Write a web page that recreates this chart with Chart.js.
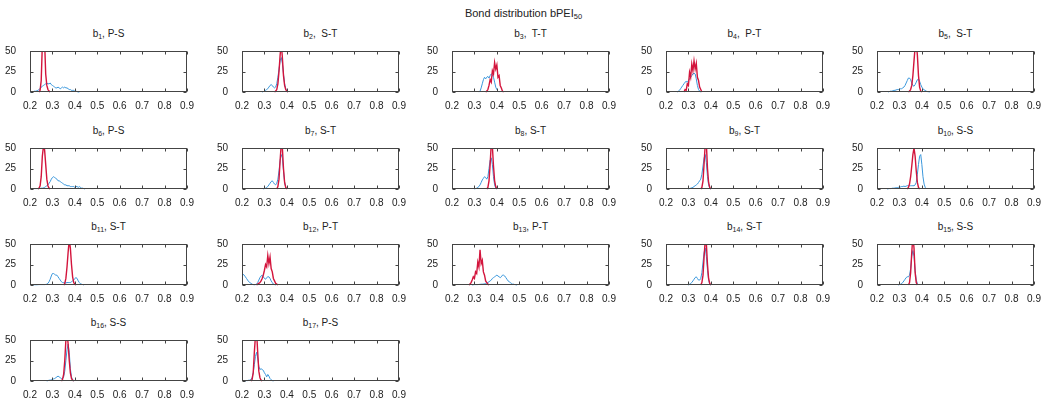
<!DOCTYPE html>
<html><head><meta charset="utf-8">
<script src="https://cdn.jsdelivr.net/npm/chart.js@4/dist/chart.umd.min.js"></script>
<style>
body{margin:0;background:#fff;width:1047px;height:400px;position:relative;overflow:hidden;font-family:'Liberation Sans',Arial,Helvetica,sans-serif;color:#222}
.t{position:absolute;text-align:center;font-size:10px;line-height:12px;white-space:pre;color:#222}
.t sub{font-size:7px;vertical-align:-2px;line-height:0}
#main{position:absolute;left:0;top:7px;width:1047px;text-align:center;font-size:11px;line-height:13px;color:#222}
#main sub{font-size:7.5px;vertical-align:-2px;line-height:0}
canvas{position:absolute;display:block}
</style>
</head><body>
<div id="main">Bond distribution bPEI<sub>50</sub></div>
<script>
// ---- data ----
const STEP = 0.005;
const xTickValues = [0.2, 0.3, 0.4, 0.5, 0.6, 0.7, 0.8, 0.9];
const xTickLabels = ['0.2', '0.3', '0.4', '0.5', '0.6', '0.7', '0.8', '0.9'];
const yTickValues = [0, 25, 50];
const yTickLabels = ['0', '25', '50'];
const bondIndex = [1, 2, 3, 4, 5, 6, 7, 8, 9, 10, 11, 12, 13, 14, 15, 16, 17];
const bondType = ['P-S', ' S-T', ' T-T', ' P-T', ' S-T', 'P-S', 'S-T', 'S-T', 'S-T', 'S-S', 'S-T', 'P-T', 'P-T', 'S-T', 'S-S', 'S-S', 'P-S'];

const redStart  = [0.24, 0.345, 0.35, 0.28, 0.34, 0.235, 0.355, 0.355, 0.355, 0.335, 0.35, 0.265, 0.275, 0.355, 0.34, 0.34, 0.24];
const blueStart = [0.20, 0.29, 0.32, 0.25, 0.25, 0.20, 0.295, 0.30, 0.30, 0.245, 0.21, 0.20, 0.29, 0.30, 0.295, 0.275, 0.215];

const b1Red  = [0,2,14,58,80,62,22,8,3,1,0];
const b2Red  = [0,1,3,10,25,45,60,42,20,8,3,1,0];
const b3Red  = [0,1,3,8,15,12,26,22,36,28,33,18,20,8,5,1,0];
const b4Red  = [0,3,2,10,8,24,18,34,26,38,28,35,18,14,6,3,0];
const b5Red  = [0,1,3,8,20,38,55,60,45,20,6,1,0];
const b6Red  = [0,1,4,15,40,52,48,30,12,4,1,0];
const b7Red  = [0,3,12,35,55,50,25,8,2,0];
const b8Red  = [0,2,10,30,55,52,28,10,3,0];
const b9Red  = [0,2,10,32,55,55,25,8,2,0];
const b10Red = [0,2,6,15,28,42,50,40,22,8,2,0];
const b11Red = [0,2,8,22,40,55,45,25,10,3,1,0];
const b12Red = [0,1,2,3,5,8,12,18,25,22,36,26,34,20,16,8,5,2,1,0];
const b13Red = [0,1,3,6,10,8,16,14,28,22,43,26,30,16,12,5,3,1,0];
const b14Red = [0,3,12,35,55,50,25,8,2,0];
const b15Red = [0,3,15,40,60,45,15,3,0];
const b16Red = [0,2,8,25,50,60,45,25,10,3,1,0];
const b17Red = [0,2,10,35,55,60,35,12,4,1,0];

const b1Blue  = [0,0,0,0.5,1,1,1.5,2,3,4,6,7,8,9,10,11,10,10,11,9,8,7,6,5,5,6,5,4,5,6,5,6,5,5,4,3,3,2,2,2,1,1,0.5,0,0];
const b2Blue  = [0,0.5,1,2,3,4,6,8,9,8,6,5,6,10,18,28,38,42,35,22,10,4,1,0];
const b3Blue  = [0,1,5,10,15,18,16,18,19,17,20,22,21,18,12,6,3,1,0];
const b4Blue  = [0,1,2,4,6,8,10,12,13,12,14,16,18,20,22,23,22,16,8,3,1,0];
const b5Blue  = [0,0.5,1,1,1.5,2,2,2.5,3,3,3.5,4,4,5,6,8,11,14,17,17,15,11,8,7,9,12,15,16,13,9,6,4,2.5,2,1,0.5,0.3,0];
const b6Blue  = [0.5,0.5,0.5,0.5,0.5,0.5,0.5,0.5,0.5,0.7,1,1,1.5,2,3,4,5,7,9,12,14,15,14,13,12,10,10,9,8,7,6,5,5,4,4,4,3,3,3,3,2,3,3,2,3,2,1,1,0.5,0];
const b7Blue  = [0,0.5,1,2,3,5,7,9,10,8,6,5,7,12,22,35,42,38,22,8,2,0];
const b8Blue  = [0,0.5,1,2,3,5,8,11,13,15,14,12,15,25,35,38,30,15,5,1,0];
const b9Blue  = [0,0.5,1,1.5,2,3,4,5,6,8,10,12,18,28,38,42,32,15,5,1,0];
const b10Blue = [0,0.3,0.5,0.5,0.7,1,1,1.2,1.5,1.5,2,2,2.5,3,3,3.5,3,3.5,4,4,4,4,4,4,4,5,8,18,30,40,42,30,15,6,2,0];
const b11Blue = [0,0.2,0.3,0.3,0.3,0.4,0.5,0.5,0.5,0.5,0.5,0.5,0.7,1,2,4,7,11,14,14,13,12,12,10,8,6,4,3,3,2.5,2.5,3,3,3,3,4,5,6,8,9,8,5,3,1.5,1,0.5,0];
const b12Blue = [10,13,12,10,8,6,4,3,2,1,0.5,0.3,0.5,1,3,6,9,11,12,10,8,7,9,10,10,8,5,3,1,0.5,0];
const b13Blue = [0,0.3,0.5,0.5,0.5,0.5,0.7,0.8,1,1,1.2,1.5,2,2.5,3,4,5,6,8,9,10,11,12,11,10,9,10,12,12,11,9,7,5,4,3,2,1,1,0.5,0.3,0];
const b14Blue = [0,1,2,3,5,7,9,10,8,6,6,8,15,28,40,45,35,18,6,1,0];
const b15Blue = [0,0.5,1,2,3,5,7,9,10,10,12,20,35,42,35,18,6,2,0];
const b16Blue = [0,0.5,1,1,1.5,2,2.5,3,4,5,6,5,4,3,3,5,12,25,38,45,35,15,5,1,0];
const b17Blue = [0,0.5,0.5,1,1,2,4,10,20,30,35,28,18,14,15,14,13,10,8,5,8,6,3,1.5,0.5,0];

const redSeries  = [b1Red,b2Red,b3Red,b4Red,b5Red,b6Red,b7Red,b8Red,b9Red,b10Red,b11Red,b12Red,b13Red,b14Red,b15Red,b16Red,b17Red];
const blueSeries = [b1Blue,b2Blue,b3Blue,b4Blue,b5Blue,b6Blue,b7Blue,b8Blue,b9Blue,b10Blue,b11Blue,b12Blue,b13Blue,b14Blue,b15Blue,b16Blue,b17Blue];

// ---- layout / style ----
const RED = '#d3143c';
const BLUE = '#3a97dc';
const colLeft = [30, 242, 452, 666, 877];
const rowTop = [51, 148, 244, 340];
const PW = 157, PH = 41, PADL = 30, PADT = 12, PADR = 10, PADB = 20;

Chart.defaults.font.family = "'Liberation Sans', Arial, Helvetica, sans-serif";
Chart.defaults.font.size = 10;
Chart.defaults.color = '#222';

const boxPlugin = {
  id: 'box',
  afterDraw(chart) {
    const {ctx, chartArea: a, scales: {x, y}} = chart;
    ctx.save();
    ctx.strokeStyle = '#444';
    ctx.lineWidth = 1;
    const l = Math.round(a.left) + 0.5, r = Math.round(a.right) - 0.5;
    const t = Math.round(a.top) + 0.5, b = Math.round(a.bottom) - 0.5;
    ctx.strokeRect(l, t, r - l, b - t);
    ctx.beginPath();
    xTickValues.forEach(v => {
      const px = Math.round(x.getPixelForValue(v)) + 0.5;
      ctx.moveTo(px, b); ctx.lineTo(px, b - 3);
      ctx.moveTo(px, t); ctx.lineTo(px, t + 3);
    });
    yTickValues.forEach(v => {
      const py = Math.round(y.getPixelForValue(v)) + 0.5;
      ctx.moveTo(l, py); ctx.lineTo(l + 3, py);
      ctx.moveTo(r, py); ctx.lineTo(r - 3, py);
    });
    ctx.stroke();
    ctx.restore();
  }
};

function toPoints(start, vals) {
  return vals.map((v, i) => ({x: +(start + i * STEP).toFixed(4), y: v}));
}

bondIndex.forEach((n, i) => {
  const col = i % 5, row = Math.floor(i / 5);
  const pl = colLeft[col], pt = rowTop[row];

  const title = document.createElement('div');
  title.className = 't';
  title.style.left = pl + 'px';
  title.style.width = PW + 'px';
  title.style.top = (pt - 23) + 'px';
  title.innerHTML = 'b<sub>' + n + '</sub>, ' + bondType[i];
  document.body.appendChild(title);

  const cv = document.createElement('canvas');
  cv.width = PADL + PW + PADR;
  cv.height = PADT + PH + PADB;
  cv.style.left = (pl - PADL) + 'px';
  cv.style.top = (pt - PADT) + 'px';
  document.body.appendChild(cv);

  new Chart(cv, {
    type: 'line',
    data: {
      datasets: [
        {data: toPoints(redStart[i], redSeries[i]), borderColor: RED, borderWidth: 1.4, pointRadius: 0, tension: 0,
         clip: {left: 0, right: 0, top: 0, bottom: 2}},
        {data: toPoints(blueStart[i], blueSeries[i]), borderColor: BLUE, borderWidth: 1, pointRadius: 0, tension: 0,
         clip: {left: 0, right: 0, top: 0, bottom: 2}}
      ]
    },
    options: {
      responsive: false,
      animation: false,
      devicePixelRatio: 1,
      events: [],
      layout: {padding: {top: PADT, right: PADR, bottom: 0, left: 0}},
      plugins: {legend: {display: false}, tooltip: {enabled: false}},
      scales: {
        x: {
          type: 'linear', min: 0.2, max: 0.9,
          afterBuildTicks: s => { s.ticks = xTickValues.map(v => ({value: v})); },
          ticks: {callback: (v, k) => xTickLabels[k], padding: 0, maxRotation: 0, autoSkip: false},
          grid: {display: false},
          border: {display: false},
          afterFit: s => { s.height = PADB; }
        },
        y: {
          min: 0, max: 50,
          afterBuildTicks: s => { s.ticks = yTickValues.map(v => ({value: v})); },
          ticks: {callback: (v, k) => yTickLabels[k], padding: 6, autoSkip: false},
          grid: {display: false},
          border: {display: false},
          afterFit: s => { s.width = PADL; }
        }
      }
    },
    plugins: [boxPlugin]
  });
});
</script>
</body></html>
